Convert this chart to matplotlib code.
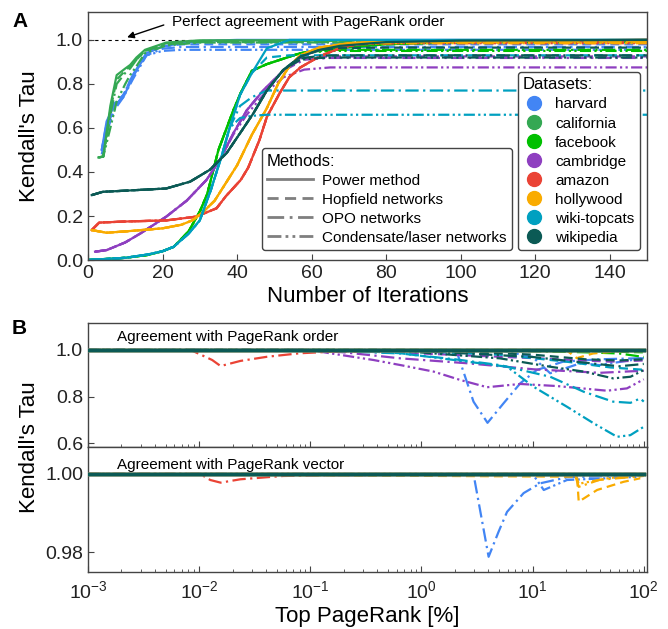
import matplotlib
matplotlib.use("Agg")
import matplotlib.pyplot as plt
from matplotlib.lines import Line2D

plt.rcParams["font.family"] = ["Liberation Sans", "DejaVu Sans"]
plt.rcParams["mathtext.fontset"] = "custom"
plt.rcParams["mathtext.rm"] = "Liberation Sans"
plt.rcParams["mathtext.it"] = "Liberation Sans:italic"

dataset_names = ["harvard", "california", "facebook", "cambridge", "amazon", "hollywood", "wiki-topcats", "wikipedia"]
dataset_colors = ["#4285f4", "#34a853", "#00c000", "#8e3fc0", "#ea4335", "#f9ab00", "#00a0c0", "#0b5a55"]
method_names = ["Power method", "Hopfield networks", "OPO networks", "Condensate/laser networks"]
method_styles = ["-", (0, (4, 2.3)), (0, (6, 2, 1, 2)), (0, (5, 1.5, 1, 1.5, 1, 1.5))]

# ---- panel A: Kendall's tau vs. number of iterations ----
harvard_iter = [3.7, 5, 7, 9.5, 12, 15.7, 20, 25, 30, 40, 150]
harvard_power = [0.50, 0.63, 0.70, 0.74, 0.83, 0.94, 0.97, 0.985, 0.995, 1.0, 1.0]
harvard_hopfield = [0.50, 0.62, 0.71, 0.75, 0.84, 0.94, 0.97, 0.98, 0.98, 0.98, 0.98]
harvard_opo = [0.50, 0.60, 0.69, 0.75, 0.84, 0.93, 0.96, 0.968, 0.968, 0.968, 0.968]
harvard_condensate = [0.48, 0.58, 0.68, 0.74, 0.82, 0.93, 0.95, 0.955, 0.955, 0.955, 0.955]

california_iter = [2.8, 4.1, 6, 7.7, 10, 11.3, 13, 15.3, 21, 30, 150]
california_power = [0.466, 0.47, 0.70, 0.84, 0.87, 0.886, 0.92, 0.955, 0.988, 0.998, 1.0]
california_hopfield = [0.466, 0.47, 0.68, 0.82, 0.86, 0.88, 0.91, 0.95, 0.985, 0.995, 0.995]
california_opo = [0.466, 0.47, 0.66, 0.80, 0.85, 0.87, 0.91, 0.95, 0.98, 0.99, 0.99]
california_condensate = [0.466, 0.47, 0.60, 0.72, 0.80, 0.84, 0.88, 0.94, 0.975, 0.988, 0.99]

facebook_iter = [0, 10, 16, 20, 23, 27, 30, 32, 35, 39, 41, 44, 48, 57, 65, 80, 100, 150]
facebook_power = [0.0, 0.01, 0.023, 0.04, 0.06, 0.13, 0.22, 0.30, 0.50, 0.68, 0.76, 0.86, 0.89, 0.94, 0.96, 0.98, 0.99, 1.0]
facebook_hopfield = [0.0, 0.01, 0.023, 0.04, 0.06, 0.13, 0.22, 0.30, 0.50, 0.68, 0.76, 0.86, 0.89, 0.94, 0.96, 0.98, 0.99, 0.99]
facebook_opo = [0.0, 0.01, 0.023, 0.04, 0.06, 0.13, 0.22, 0.30, 0.50, 0.68, 0.76, 0.86, 0.89, 0.94, 0.955, 0.955, 0.955, 0.955]
facebook_condensate = [0.0, 0.01, 0.023, 0.04, 0.06, 0.13, 0.22, 0.30, 0.50, 0.68, 0.76, 0.86, 0.89, 0.94, 0.95, 0.95, 0.95, 0.95]

cambridge_iter = [1.9, 5, 10, 14, 21, 26.5, 31.8, 35.4, 39, 42.6, 47, 52.4, 58, 65, 75, 150]
cambridge_power = [0.038, 0.045, 0.08, 0.12, 0.197, 0.27, 0.364, 0.455, 0.576, 0.68, 0.77, 0.86, 0.93, 0.97, 0.99, 1.0]
cambridge_hopfield = [0.038, 0.045, 0.08, 0.12, 0.197, 0.27, 0.364, 0.455, 0.576, 0.68, 0.77, 0.86, 0.92, 0.925, 0.925, 0.925]
cambridge_opo = [0.038, 0.045, 0.08, 0.12, 0.197, 0.27, 0.364, 0.455, 0.576, 0.68, 0.77, 0.86, 0.91, 0.918, 0.918, 0.918]
cambridge_condensate = [0.038, 0.045, 0.08, 0.12, 0.197, 0.27, 0.364, 0.455, 0.57, 0.66, 0.75, 0.83, 0.865, 0.875, 0.875, 0.875]

amazon_iter = [1, 3, 10, 21, 29, 34.5, 37, 41, 43, 46, 48, 51.5, 54, 57, 62, 67.5, 73, 85, 150]
amazon_power = [0.136, 0.17, 0.175, 0.18, 0.197, 0.235, 0.29, 0.364, 0.42, 0.545, 0.65, 0.76, 0.83, 0.875, 0.924, 0.962, 0.985, 0.995, 1.0]
amazon_hopfield = [0.136, 0.17, 0.175, 0.18, 0.197, 0.235, 0.29, 0.364, 0.42, 0.545, 0.65, 0.76, 0.83, 0.875, 0.924, 0.962, 0.985, 0.993, 0.995]
amazon_opo = [0.136, 0.17, 0.175, 0.18, 0.197, 0.235, 0.29, 0.364, 0.42, 0.545, 0.65, 0.76, 0.83, 0.875, 0.924, 0.962, 0.985, 0.99, 0.99]
amazon_condensate = [0.136, 0.17, 0.175, 0.18, 0.197, 0.235, 0.29, 0.364, 0.42, 0.545, 0.65, 0.76, 0.83, 0.875, 0.924, 0.962, 0.98, 0.985, 0.985]

hollywood_iter = [1, 5, 10, 20, 25, 28, 31, 34, 37, 40, 44, 48, 51, 54, 57, 62, 70, 80, 150]
hollywood_power = [0.136, 0.124, 0.13, 0.144, 0.16, 0.18, 0.22, 0.27, 0.35, 0.43, 0.57, 0.69, 0.80, 0.88, 0.93, 0.965, 0.985, 0.995, 1.0]
hollywood_hopfield = [0.136, 0.124, 0.13, 0.144, 0.16, 0.18, 0.22, 0.27, 0.35, 0.43, 0.57, 0.69, 0.80, 0.88, 0.93, 0.965, 0.985, 0.993, 0.995]
hollywood_opo = [0.136, 0.124, 0.13, 0.144, 0.16, 0.18, 0.22, 0.27, 0.35, 0.43, 0.57, 0.69, 0.80, 0.88, 0.93, 0.965, 0.985, 0.99, 0.99]
hollywood_condensate = [0.136, 0.124, 0.13, 0.144, 0.16, 0.18, 0.22, 0.27, 0.35, 0.43, 0.57, 0.69, 0.80, 0.88, 0.93, 0.965, 0.98, 0.985, 0.985]

topcats_iter = [0, 10, 16, 20, 23, 27, 30, 33, 36, 38, 40.8, 44, 48, 54, 150]
topcats_power = [0.0, 0.01, 0.025, 0.04, 0.06, 0.12, 0.18, 0.32, 0.48, 0.60, 0.75, 0.85, 0.962, 1.0, 1.0]
topcats_hopfield = [0.0, 0.01, 0.025, 0.04, 0.06, 0.12, 0.18, 0.32, 0.48, 0.60, 0.75, 0.85, 0.92, 0.93, 0.93]
topcats_opo = [0.0, 0.01, 0.025, 0.04, 0.06, 0.12, 0.18, 0.32, 0.48, 0.60, 0.70, 0.74, 0.77, 0.77, 0.77]
topcats_condensate = [0.0, 0.01, 0.025, 0.04, 0.06, 0.12, 0.18, 0.32, 0.48, 0.60, 0.645, 0.655, 0.66, 0.66, 0.66]

wikipedia_iter = [1, 4, 10, 21, 27.4, 32.7, 37.2, 40.8, 44.4, 48, 52.4, 57, 62.2, 67.6, 80, 100, 150]
wikipedia_power = [0.295, 0.31, 0.315, 0.325, 0.356, 0.41, 0.486, 0.576, 0.667, 0.77, 0.864, 0.924, 0.955, 0.973, 0.99, 0.997, 1.0]
wikipedia_hopfield = [0.295, 0.31, 0.315, 0.325, 0.356, 0.41, 0.486, 0.576, 0.667, 0.77, 0.864, 0.924, 0.955, 0.963, 0.965, 0.965, 0.965]
wikipedia_opo = [0.295, 0.31, 0.315, 0.325, 0.356, 0.41, 0.486, 0.576, 0.667, 0.77, 0.864, 0.915, 0.928, 0.93, 0.93, 0.93, 0.93]
wikipedia_condensate = [0.295, 0.31, 0.315, 0.325, 0.356, 0.41, 0.486, 0.576, 0.667, 0.77, 0.864, 0.91, 0.918, 0.92, 0.92, 0.92, 0.92]

# ---- panel B: agreement with PageRank order / vector vs. top PageRank [%] ----
top_range = [1e-3, 100]
power_tau = [1.0, 1.0]

order_amazon_opo_x = [0.001, 0.0084, 0.0131, 0.0156, 0.0235, 0.041, 0.081, 0.162, 100]
order_amazon_opo = [1.0, 1.0, 0.957, 0.931, 0.953, 0.971, 0.986, 0.993, 1.0]
order_harvard_opo_x = [0.001, 1.0, 2.1, 2.94, 3.93, 5.48, 7.75, 10.9, 18.9, 40, 100]
order_harvard_opo = [1.0, 0.995, 0.986, 0.778, 0.687, 0.771, 0.857, 0.914, 0.95, 0.96, 0.965]
order_harvard_cond_x = [0.001, 5, 10, 14.4, 27, 40, 100]
order_harvard_cond = [1.0, 1.0, 0.97, 0.90, 0.943, 0.935, 0.965]
order_cambridge_hop_x = [0.001, 0.1, 1, 10, 50, 100]
order_cambridge_hop = [1.0, 1.0, 0.985, 0.965, 0.95, 0.955]
order_cambridge_opo_x = [0.001, 0.1, 0.2, 0.65, 2.57, 10.2, 40.5, 100]
order_cambridge_opo = [1.0, 1.0, 0.99, 0.964, 0.943, 0.917, 0.902, 0.911]
order_cambridge_cond_x = [0.001, 0.1, 0.15, 0.37, 0.65, 1.29, 2.24, 3.9, 7.75, 16.6, 46.7, 70.6, 100]
order_cambridge_cond = [1.0, 1.0, 0.986, 0.957, 0.935, 0.907, 0.871, 0.84, 0.854, 0.845, 0.825, 0.835, 0.874]
order_topcats_hop_x = [0.001, 0.5, 5, 20, 50, 100]
order_topcats_hop = [1.0, 1.0, 0.98, 0.95, 0.925, 0.915]
order_topcats_opo_x = [0.001, 0.1, 0.65, 2.0, 5.1, 14.4, 29, 53, 76, 93, 100]
order_topcats_opo = [1.0, 1.0, 0.985, 0.96, 0.935, 0.885, 0.82, 0.778, 0.773, 0.792, 0.778]
order_topcats_cond_x = [0.001, 0.2, 0.65, 2.57, 5.9, 10.2, 20.4, 35.4, 57.5, 75.7, 100]
order_topcats_cond = [1.0, 1.0, 0.986, 0.95, 0.928, 0.842, 0.756, 0.685, 0.627, 0.634, 0.67]
order_wikipedia_hop_x = [0.001, 1, 10, 30, 60, 100]
order_wikipedia_hop = [1.0, 1.0, 0.98, 0.96, 0.955, 0.96]
order_wikipedia_opo_x = [0.001, 1, 10, 30, 60, 100]
order_wikipedia_opo = [1.0, 0.995, 0.97, 0.945, 0.93, 0.94]
order_wikipedia_cond_x = [0.001, 0.5, 5.1, 14.4, 29, 53, 76, 100]
order_wikipedia_cond = [1.0, 1.0, 0.964, 0.928, 0.907, 0.878, 0.885, 0.914]
order_facebook_hop_x = [0.001, 10, 30, 100]
order_facebook_hop = [1.0, 1.0, 0.995, 0.99]
order_facebook_opo_x = [0.001, 10, 30, 60, 100]
order_facebook_opo = [1.0, 0.995, 0.99, 0.985, 0.97]
order_hollywood_hop_x = [0.001, 20, 25, 35, 60, 100]
order_hollywood_hop = [1.0, 1.0, 0.965, 0.985, 0.995, 1.0]

vector_amazon_opo_x = [0.001, 0.0102, 0.0126, 0.0156, 0.0235, 0.057, 0.16, 100]
vector_amazon_opo = [1.0, 1.0, 0.99846, 0.99778, 0.99864, 0.99949, 0.9997, 1.0]
vector_cambridge_cond_x = [0.001, 0.1, 0.15, 0.3, 1, 100]
vector_cambridge_cond = [1.0, 1.0, 0.9997, 0.9997, 0.99995, 1.0]
vector_harvard_opo_x = [0.001, 2.95, 4.02, 4.94, 5.89, 8.3, 11.7, 20.4, 93]
vector_harvard_opo = [1.0, 0.99974, 0.9788, 0.9852, 0.9903, 0.9951, 0.99761, 0.99915, 0.9997]
vector_harvard_cond_x = [0.001, 10, 12.6, 20.4, 93]
vector_harvard_cond = [1.0, 1.0, 0.9959, 0.99846, 0.9993]
vector_hollywood_hop_x = [0.001, 25.1, 26, 38, 66, 93]
vector_hollywood_hop = [1.0, 0.9993, 0.9929, 0.9959, 0.998, 0.9989]
vector_hollywood_opo_x = [0.001, 24, 26, 40, 100]
vector_hollywood_opo = [1.0, 1.0, 0.9967, 0.9985, 0.9995]
vector_hollywood_cond_x = [0.001, 24, 26, 50, 100]
vector_hollywood_cond = [1.0, 1.0, 0.9975, 0.999, 0.9997]

panel_a = [
    (harvard_iter, [harvard_power, harvard_hopfield, harvard_opo, harvard_condensate]),
    (california_iter, [california_power, california_hopfield, california_opo, california_condensate]),
    (facebook_iter, [facebook_power, facebook_hopfield, facebook_opo, facebook_condensate]),
    (cambridge_iter, [cambridge_power, cambridge_hopfield, cambridge_opo, cambridge_condensate]),
    (amazon_iter, [amazon_power, amazon_hopfield, amazon_opo, amazon_condensate]),
    (hollywood_iter, [hollywood_power, hollywood_hopfield, hollywood_opo, hollywood_condensate]),
    (topcats_iter, [topcats_power, topcats_hopfield, topcats_opo, topcats_condensate]),
    (wikipedia_iter, [wikipedia_power, wikipedia_hopfield, wikipedia_opo, wikipedia_condensate]),
]

# (dataset index, method index, x, tau)
panel_b_order = [
    (0, 2, order_harvard_opo_x, order_harvard_opo),
    (0, 3, order_harvard_cond_x, order_harvard_cond),
    (2, 1, order_facebook_hop_x, order_facebook_hop),
    (2, 2, order_facebook_opo_x, order_facebook_opo),
    (3, 1, order_cambridge_hop_x, order_cambridge_hop),
    (3, 2, order_cambridge_opo_x, order_cambridge_opo),
    (3, 3, order_cambridge_cond_x, order_cambridge_cond),
    (4, 2, order_amazon_opo_x, order_amazon_opo),
    (5, 1, order_hollywood_hop_x, order_hollywood_hop),
    (6, 1, order_topcats_hop_x, order_topcats_hop),
    (6, 2, order_topcats_opo_x, order_topcats_opo),
    (6, 3, order_topcats_cond_x, order_topcats_cond),
    (7, 1, order_wikipedia_hop_x, order_wikipedia_hop),
    (7, 2, order_wikipedia_opo_x, order_wikipedia_opo),
    (7, 3, order_wikipedia_cond_x, order_wikipedia_cond),
]
panel_b_vector = [
    (0, 2, vector_harvard_opo_x, vector_harvard_opo),
    (0, 3, vector_harvard_cond_x, vector_harvard_cond),
    (3, 3, vector_cambridge_cond_x, vector_cambridge_cond),
    (4, 2, vector_amazon_opo_x, vector_amazon_opo),
    (5, 1, vector_hollywood_hop_x, vector_hollywood_hop),
    (5, 2, vector_hollywood_opo_x, vector_hollywood_opo),
    (5, 3, vector_hollywood_cond_x, vector_hollywood_cond),
]

spine_color = "#444444"
line_width = 1.6


def style_axis(axis):
    for spine in axis.spines.values():
        spine.set_color(spine_color)
        spine.set_linewidth(1.0)
    axis.tick_params(which="both", direction="in", colors=spine_color, labelcolor="#222222")
    axis.tick_params(which="major", length=4, labelsize=14)
    axis.tick_params(which="minor", length=2.5)


fig = plt.figure(figsize=(6.68, 6.29), dpi=100)
ax_a = fig.add_axes([0.1317, 0.5866, 0.8369, 0.3944])
ax_order = fig.add_axes([0.1317, 0.2893, 0.8369, 0.1972])
ax_vector = fig.add_axes([0.1317, 0.0906, 0.8369, 0.1987], sharex=ax_order)

# panel A
ax_a.axhline(1.0, color="black", lw=0.8, ls=(0, (3, 3)), zorder=1)
for dataset_index, (iterations, curves) in enumerate(panel_a):
    for method_index in [3, 2, 1, 0]:
        ax_a.plot(iterations, curves[method_index], color=dataset_colors[dataset_index],
                  ls=method_styles[method_index], lw=line_width, zorder=2)
ax_a.set_xlim(0, 150)
ax_a.set_ylim(0, 1.127)
ax_a.set_xticks(range(0, 141, 20))
ax_a.set_yticks([0.0, 0.2, 0.4, 0.6, 0.8, 1.0])
ax_a.yaxis.set_major_formatter(lambda value, pos: f"{value:.1f}")
style_axis(ax_a)
ax_a.annotate("Perfect agreement with PageRank order", xy=(10.5, 1.012), xytext=(22.5, 1.08),
              fontsize=11, va="center", ha="left",
              arrowprops=dict(arrowstyle="-|>", color="black", lw=1.0, mutation_scale=10,
                              relpos=(0, 0.5), shrinkA=4, shrinkB=0))

legend_style = dict(loc="lower right", fontsize=11, title_fontsize=12, alignment="left",
                    labelspacing=0.33, borderpad=0.35, borderaxespad=0, framealpha=1,
                    edgecolor=spine_color, fancybox=True)
method_handles = [Line2D([], [], color="#7f7f7f", lw=2, ls=style) for style in method_styles]
legend_methods = ax_a.legend(method_handles, method_names, title="Methods:",
                             bbox_to_anchor=(0.758, 0.04), handlelength=3.0,
                             handletextpad=0.6, **legend_style)
ax_a.add_artist(legend_methods)
dataset_handles = [Line2D([], [], color=color, marker="o", ls="none", markersize=10) for color in dataset_colors]
ax_a.legend(dataset_handles, dataset_names, title="Datasets:", bbox_to_anchor=(0.987, 0.04),
            handlelength=1.4, handletextpad=0.7, **legend_style)

# panel B
for axis, extra_lines in [(ax_order, panel_b_order), (ax_vector, panel_b_vector)]:
    for dataset_index, method_index, xs, taus in extra_lines:
        axis.plot(xs, taus, color=dataset_colors[dataset_index], ls=method_styles[method_index],
                  lw=line_width, zorder=2)
    for dataset_index in range(len(dataset_names)):
        axis.plot(top_range, power_tau, color=dataset_colors[dataset_index], lw=2.4, zorder=3)
    axis.set_xscale("log")
    style_axis(axis)

ax_order.set_xlim(1e-3, 107)
ax_order.set_ylim(0.583, 1.116)
ax_order.set_yticks([0.6, 0.8, 1.0])
ax_order.yaxis.set_major_formatter(lambda value, pos: f"{value:.1f}")
ax_order.tick_params(axis="x", which="both", labelbottom=False)
ax_vector.set_ylim(0.9749, 1.0069)
ax_vector.set_yticks([0.98, 1.00])
ax_vector.yaxis.set_major_formatter(lambda value, pos: f"{value:.2f}")
ax_vector.tick_params(axis="x", which="major", labelsize=14, pad=6)
ax_order.text(0.052, 0.885, "Agreement with PageRank order", transform=ax_order.transAxes,
              fontsize=11, va="center", ha="left")
ax_vector.text(0.052, 0.86, "Agreement with PageRank vector", transform=ax_vector.transAxes,
               fontsize=11, va="center", ha="left")

# shared labels and panel letters
fig.text(0.044, 1 - 136 / 629, "Kendall's Tau", rotation=90, fontsize=16, ha="center", va="center")
fig.text(0.044, 1 - 447.5 / 629, "Kendall's Tau", rotation=90, fontsize=16, ha="center", va="center")
fig.text(367.5 / 668, 1 - 302 / 629, "Number of Iterations", fontsize=16, ha="center", va="baseline")
fig.text(367.5 / 668, 1 - 622 / 629, "Top PageRank [%]", fontsize=16, ha="center", va="baseline")
fig.text(12 / 668, 1 - 27 / 629, "A", fontsize=15, fontweight="bold", ha="left", va="baseline")
fig.text(12 / 668, 1 - 334 / 629, "B", fontsize=15, fontweight="bold", ha="left", va="baseline")

fig.savefig("out.png", dpi=100)
